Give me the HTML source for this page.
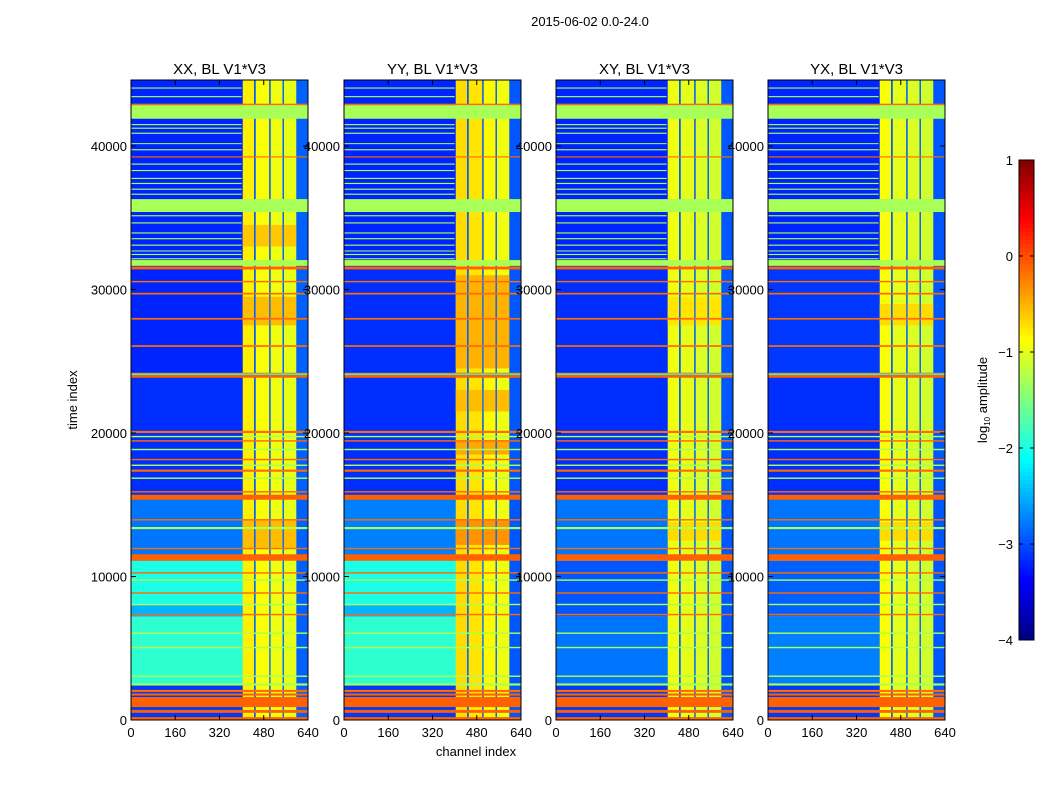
<!DOCTYPE html>
<html><head><meta charset="utf-8"><style>
body{margin:0;background:#fff;}
svg{display:block;font-family:"Liberation Sans",sans-serif;}
</style></head><body>
<svg id="fig" width="1050" height="800" viewBox="0 0 1050 800">
<rect width="1050" height="800" fill="#fff"/>
<text x="590" y="26" font-size="13" text-anchor="middle">2015-06-02 0.0-24.0</text>
<text x="476" y="756" font-size="13" text-anchor="middle">channel index</text>
<text transform="translate(77,400) rotate(-90)" font-size="13" text-anchor="middle">time index</text>
</svg>
<script>
const panelTitles = ["XX, BL V1*V3","YY, BL V1*V3","XY, BL V1*V3","YX, BL V1*V3"];
const panelLefts = [131, 344, 556, 768];
const xTicks = [0,160,320,480,640];
const yTicks = [0,10000,20000,30000,40000];
const cbTicks = [1,0,-1,-2,-3,-4];
// background level per time band [t0,t1,log amp]
const bgP1 = [[0,2500,-3.1],[2500,7200,-1.9],[7200,8000,-2.5],[8000,11100,-2.0],[11100,15500,-2.8],[15500,24000,-3.15],[24000,31500,-3.2],[31500,44600,-3.2]];
const bgP2 = [[0,2500,-3.1],[2500,7200,-1.9],[7200,8000,-2.5],[8000,11100,-2.0],[11100,15500,-2.75],[15500,24000,-3.15],[24000,31500,-3.15],[31500,44600,-3.2]];
const bgP3 = [[0,2500,-3.1],[2500,7200,-2.8],[7200,11100,-2.95],[11100,15500,-2.8],[15500,24000,-3.15],[24000,31500,-3.15],[31500,44600,-3.2]];
const bgP4 = [[0,2500,-3.1],[2500,7200,-2.75],[7200,11100,-2.9],[11100,15500,-2.8],[15500,24000,-3.15],[24000,31500,-3.1],[31500,44600,-3.2]];
const bgBands = [bgP1,bgP2,bgP3,bgP4];
// bright channel columns [c0,c1,log amp]
const colP1 = [[404,445,-0.8],[445,451,-2.9],[451,500,-0.9],[500,505,-2.9],[505,548,-0.95],[548,553,-2.9],[553,598,-1.0],[598,640,-2.9]];
const colP2 = [[404,445,-0.7],[445,451,-2.9],[451,500,-0.75],[500,505,-2.9],[505,548,-0.85],[548,553,-2.9],[553,598,-0.95],[598,640,-2.95]];
const colP3 = [[404,445,-0.95],[445,451,-2.9],[451,500,-1.0],[500,505,-2.9],[505,548,-1.05],[548,553,-2.9],[553,598,-1.1],[598,640,-2.95]];
const colP4 = [[404,445,-0.9],[445,451,-2.9],[451,500,-1.0],[500,505,-2.9],[505,548,-1.05],[548,553,-2.9],[553,598,-1.1],[598,640,-2.95]];
const colBands = [colP1,colP2,colP3,colP4];
// hot patches in bright columns [t0,t1,log amp]
const hotP1 = [[12000,14000,-0.55],[27500,29500,-0.55],[33000,34500,-0.6]];
const hotP2 = [[12200,14000,-0.35],[24500,31000,-0.5],[18500,19500,-0.45],[21500,23000,-0.55]];
const hotP3 = [[12500,13800,-0.7],[27500,29500,-0.75]];
const hotP4 = [[12500,13800,-0.7],[27500,29000,-0.7]];
const hotRows = [hotP1,hotP2,hotP3,hotP4];
// flagged rows shared by all panels [t0,t1,log amp,max channel]
const flagT0 = [0,500,900,1700,1950,2400,3000,5000,6000,7300,8000,8800,9700,10200,11100,11900,13300,13900,15350,15850,16800,17300,17700,18100,18800,19400,19700,20000,23850,24050,26000,27900,29650,30500,31400,31650,32100,32400,32650,33050,33500,33900,34600,35100,35400,36600,36950,37350,37700,38250,38700,39200,39700,40200,40850,41200,41450,41900,42850,43400,44000];
const flagT1 = [200,700,1600,1850,2100,2550,3100,5100,6100,7400,8100,8900,9800,10300,11550,12000,13450,14000,15700,15950,16900,17450,17800,18200,18900,19500,19800,20150,24200,24150,26120,28020,29770,30600,31600,32050,32180,32480,32720,33130,33580,33980,34680,35180,36300,36680,37030,37430,37780,38330,38780,39280,39780,40200,40930,41280,41530,42850,42950,43480,44080];
const flagV = [-0.1,-0.1,-0.1,-0.1,-0.15,-1.3,-1.3,-1.3,-1.3,-0.15,-1.3,-0.15,-1.3,-0.15,-0.1,-0.15,-1.3,-0.15,-0.1,-0.15,-1.3,-0.15,-1.3,-0.15,-1.3,-0.15,-1.3,-0.15,-0.1,-1.9,-0.15,-0.15,-0.15,-0.15,-0.1,-1.3,-1.3,-1.3,-1.3,-1.3,-1.3,-1.3,-1.3,-1.3,-1.3,-1.3,-1.3,-1.3,-1.3,-1.3,-1.3,-0.15,-1.3,-1.3,-1.3,-1.3,-1.3,-1.3,-0.15,-1.3,-1.3];
const flagC = [640,640,640,640,640,640,640,640,640,640,640,640,640,640,640,640,640,640,640,640,640,640,640,640,640,640,640,640,640,640,640,640,640,640,640,640,400,400,400,400,400,400,400,400,640,400,400,400,400,400,400,640,400,400,400,400,400,640,640,400,400];

const NS="http://www.w3.org/2000/svg";
const svg=document.getElementById('fig');
const PT=80, PB=720, PW=177, TMAX=44600, CMAX=640;
function yS(t){return PB-(t/TMAX)*(PB-PT);}
function xS(left,c){return left+(c/CMAX)*PW;}
function jet(v){let t=(v+4)/5;t=Math.max(0,Math.min(1,t));
 const f=x=>Math.round(255*Math.max(0,Math.min(1,x)));
 return `rgb(${f(1.5-Math.abs(4*t-3))},${f(1.5-Math.abs(4*t-2))},${f(1.5-Math.abs(4*t-1))})`;}
function mk(tag,attrs,parent){const e=document.createElementNS(NS,tag);for(const k in attrs)e.setAttribute(k,attrs[k]);(parent||svg).appendChild(e);return e;}
function cell(g,left,c0,c1,t0,t1,v){
 const x0=xS(left,c0),x1=xS(left,c1),y0=yS(t1),y1=yS(t0);
 const r=mk('rect',{x:x0,y:y0,width:Math.max(0.5,x1-x0),height:Math.max(1,y1-y0),fill:jet(v)},g);
 
 
}
for(let p=0;p<4;p++){
 const L=panelLefts[p];
 const g=mk('g',{});
 
 
 for(const b of bgBands[p]) cell(g,L,0,CMAX,b[0],b[1],b[2]);
 for(const c of colBands[p]){
   cell(g,L,c[0],c[1],0,TMAX,c[2]);
   if(c[2]>-1.5) for(const h of hotRows[p]) cell(g,L,c[0],c[1],h[0],h[1],h[2]);
 }
 for(let i=0;i<flagT0.length;i++) cell(g,L,0,flagC[i],flagT0[i],flagT1[i],flagV[i]);
 const fr=mk('rect',{x:L,y:PT,width:PW,height:PB-PT,fill:'none',stroke:'#000','stroke-width':1},g);
 
 
 const tt=mk('text',{x:L+PW/2,y:74,'font-size':15,'text-anchor':'middle'},g);
 tt.textContent=panelTitles[p];
 
 
 for(const xt of xTicks){const x=xS(L,xt);
   mk('line',{x1:x,x2:x,y1:PB,y2:PB-5,stroke:'#000'},g);mk('line',{x1:x,x2:x,y1:PT,y2:PT+5,stroke:'#000'},g);
   const tl=mk('text',{x:x,y:737,'font-size':13,'text-anchor':'middle'},g);tl.textContent=xt;
   
   }
 for(const yt of yTicks){const y=yS(yt);
   mk('line',{x1:L,x2:L+5,y1:y,y2:y,stroke:'#000'},g);mk('line',{x1:L+PW,x2:L+PW-5,y1:y,y2:y,stroke:'#000'},g);
   const tl=mk('text',{x:L-4,y:y+5,'font-size':13,'text-anchor':'end'},g);tl.textContent=yt;
   
   }
}
// colorbar
const cb=mk('g',{});


const CBT=160,CBB=640,CBX=1019,CBW=15;
for(let i=0;i<120;i++){const v1=1-i*5/120;mk('rect',{x:CBX,y:CBT+i*4,width:CBW,height:4.5,fill:jet(v1-5/240)},cb);}
mk('rect',{x:CBX,y:CBT,width:CBW,height:CBB-CBT,fill:'none',stroke:'#000'},cb);
for(const v of cbTicks){const y=CBT+(1-v)/5*(CBB-CBT);
 mk('line',{x1:CBX,x2:CBX+4,y1:y,y2:y,stroke:'#000'},cb);mk('line',{x1:CBX+CBW,x2:CBX+CBW-4,y1:y,y2:y,stroke:'#000'},cb);
 const tl=mk('text',{x:1013,y:y+5,'font-size':13,'text-anchor':'end'},cb);tl.textContent=v<0?'\u2212'+(-v):v;
 
 }
const cl=mk('text',{transform:'translate(987,400) rotate(-90)','font-size':13,'text-anchor':'middle'},cb);
cl.innerHTML='log<tspan font-size="8" dy="3">10</tspan><tspan dy="-3"> amplitude</tspan>';


</script>
</body></html>
